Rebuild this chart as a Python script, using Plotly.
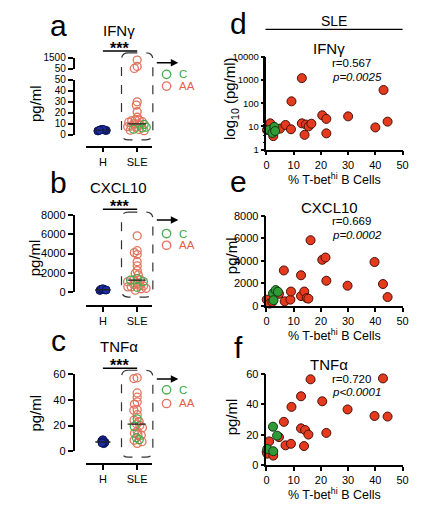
import numpy as np
import plotly.graph_objects as go

W, H = 436, 513
def fx(p): return p / W
def fy(p): return 1 - p / H

# ---------------- data ----------------
# IFN-gamma (pg/ml) vs % T-bet-hi B cells
ifn_aa_x = [0.2, 0.5, 1.4, 2.5, 5.0, 7.0, 9.0, 9.2, 13.0, 13.0, 14.0, 14.5, 15.5, 16.5, 20.5, 22.0, 22.0, 30.0, 40.0, 43.0, 44.5]
ifn_aa_y = [7, 10, 13.5, 3.8, 8, 11.5, 7.5, 120, 1200, 13.5, 4.3, 12, 10, 13, 30, 21, 5, 27, 9, 370, 16]
ifn_c_x = [1.0, 2.2, 2.9, 3.2]
ifn_c_y = [7, 5.2, 9.5, 6.3]
ifn_h = [3.6, 4.0, 4.4, 4.8, 5.0, 4.2]

# CXCL10 (pg/ml)
cx_aa_x = [0.1, 1.2, 2.2, 4.6, 6.4, 6.7, 8.8, 9.0, 12.7, 12.7, 13.9, 14.8, 15.4, 16.2, 20.5, 21.7, 22.0, 29.8, 39.7, 42.8, 44.5]
cx_aa_y = [550, 200, 350, 1070, 3150, 400, 550, 1270, 2720, 870, 1270, 690, 640, 5840, 4100, 4300, 2230, 1790, 3900, 1940, 780]
cx_c_x = [2.4, 2.6, 3.4, 4.2]
cx_c_y = [1100, 500, 1400, 1250]
cx_h = [180, 250, 300, 350, 220]

# TNF-alpha (pg/ml)
tnf_aa_x = [0.1, 0.3, 1.0, 2.5, 4.6, 6.4, 7.0, 9.0, 9.2, 12.7, 12.7, 13.8, 14.2, 15.4, 16.2, 20.5, 22.0, 29.8, 39.7, 42.8, 44.5]
tnf_aa_y = [8.6, 7.5, 15.6, 6.2, 18.4, 28.5, 13, 14, 38.4, 45.4, 24.2, 12.5, 23.1, 20.1, 56.6, 42.1, 21.2, 36.7, 32.4, 57.2, 32]
tnf_c_x = [0.3, 2.4, 2.5, 3.9]
tnf_c_y = [10.6, 25.3, 9.1, 19.4]
tnf_h = [6.0, 7.0, 8.0, 9.0, 7.5, 6.5]

groups = ["H", "SLE"]
x_ticks = [0, 10, 20, 30, 40, 50]
stats = [("r=0.567", "p=0.0025"), ("r=0.669", "p=0.0002"), ("r=0.720", "p<0.0001")]

# ---------------- styles ----------------
FONT = "Arial, Liberation Sans, sans-serif"
RED_FILL, RED_EDGE = "#e43a1d", "#4a1008"
GREEN_FILL, GREEN_EDGE = "#2f9a36", "#103a10"
RED_OPEN, GREEN_OPEN = "#e2735c", "#45ad4a"
BLUE, BLUE_EDGE = "#1c2ea6", "#0a1250"

fig = go.Figure()

def swarm(ypx, d):
    ypx = np.asarray(ypx, float)
    xs = np.zeros(len(ypx))
    placed = []
    for i in np.argsort(ypx):
        y = ypx[i]
        iv = []
        for xj, yj in placed:
            dy = abs(y - yj)
            if dy < d:
                dx = np.sqrt(d * d - dy * dy)
                iv.append((xj - dx, xj + dx))
        cands = [0.0] + [a for a, b in iv] + [b for a, b in iv]
        cands.sort(key=lambda c: (abs(c), c))
        for c in cands:
            if all(not (a + 1e-6 < c < b - 1e-6) for a, b in iv):
                xs[i] = c
                break
        placed.append((xs[i], y))
    return xs

PX_PER_UNIT = 35.0

def column_panel(h_vals, aa_vals, c_vals, to_px, yax_of, xax):
    # H group
    hp = [to_px(v) for v in h_vals]
    hx = swarm(hp, 1.8) / PX_PER_UNIT
    fig.add_trace(go.Scatter(x=list(hx), y=h_vals, mode="markers", xaxis=xax, yaxis=yax_of(np.median(h_vals)),
                             marker=dict(size=8, color=BLUE, line=dict(color=BLUE_EDGE, width=1)),
                             cliponaxis=False, hoverinfo="skip"))
    hm = float(np.median(h_vals))
    fig.add_trace(go.Scatter(x=[-0.22, 0.22], y=[hm, hm], mode="lines", xaxis=xax, yaxis=yax_of(hm),
                             line=dict(color="#222", width=1.3), hoverinfo="skip", cliponaxis=False))
    # SLE group
    vals = list(aa_vals) + list(c_vals)
    cols = [RED_OPEN] * len(aa_vals) + [GREEN_OPEN] * len(c_vals)
    sp = [to_px(v) for v in vals]
    sx = 1 + swarm(sp, 3.5) / PX_PER_UNIT
    segs = {}
    for xv, yv, cv in zip(sx, vals, cols):
        segs.setdefault(yax_of(yv), []).append((xv, yv, cv))
    for ya, pts in segs.items():
        fig.add_trace(go.Scatter(x=[p[0] for p in pts], y=[p[1] for p in pts], mode="markers",
                                 xaxis=xax, yaxis=ya,
                                 marker=dict(symbol="circle-open", size=8, color=[p[2] for p in pts],
                                             line=dict(width=1.3)),
                                 cliponaxis=False, hoverinfo="skip"))
    m = float(np.median(vals))
    fig.add_trace(go.Scatter(x=[0.72, 1.25], y=[m, m], mode="lines", xaxis=xax, yaxis=yax_of(m),
                             line=dict(color="#222", width=1.3), hoverinfo="skip", cliponaxis=False))

def lin_px(top, bottom, lo, hi):
    return lambda v: bottom - (v - lo) / (hi - lo) * (bottom - top)

# panel a: broken axis
def a_px(v):
    return lin_px(75.5, 132, 0, 50)(v) if v <= 50 else lin_px(53, 64.5, 50, 1500)(v)
column_panel(ifn_h, ifn_aa_y, ifn_c_y, a_px, lambda v: "y" if v <= 50 else "y2", "x")
column_panel(cx_h, cx_aa_y, cx_c_y, lin_px(214, 293, 0, 8000), lambda v: "y3", "x2")
column_panel(tnf_h, tnf_aa_y, tnf_c_y, lin_px(377, 456, 0, 60), lambda v: "y4", "x3")

def scatter_panel(ax, ay, cx_, cy_, xax, yax):
    fig.add_trace(go.Scatter(x=ax, y=ay, mode="markers", xaxis=xax, yaxis=yax,
                             marker=dict(size=9, color=RED_FILL, line=dict(color=RED_EDGE, width=1)),
                             cliponaxis=False, hoverinfo="skip"))
    fig.add_trace(go.Scatter(x=cx_, y=cy_, mode="markers", xaxis=xax, yaxis=yax,
                             marker=dict(size=9, color=GREEN_FILL, line=dict(color=GREEN_EDGE, width=1)),
                             cliponaxis=False, hoverinfo="skip"))

scatter_panel(ifn_aa_x, ifn_aa_y, ifn_c_x, ifn_c_y, "x4", "y5")
scatter_panel(cx_aa_x, cx_aa_y, cx_c_x, cx_c_y, "x5", "y6")
scatter_panel(tnf_aa_x, tnf_aa_y, tnf_c_x, tnf_c_y, "x6", "y7")

# ---------------- axes ----------------
common = dict(showline=True, linecolor="black", linewidth=1.5, ticks="outside", ticklen=5,
              tickwidth=1.5, tickcolor="black", showgrid=False, zeroline=False,
              tickfont=dict(size=11, color="black", family=FONT))

xcat = dict(common, domain=[fx(85), fx(152)], range=[-17 / 35, 50 / 35], tickvals=[0, 1],
            ticktext=groups, anchor="free")
ycol = dict(common, anchor="free", position=fx(72))
xsc = dict(common, domain=[fx(269), fx(408)], range=[0, 50], tickvals=x_ticks, ticklen=4)

fig.update_layout(
    xaxis=dict(xcat, position=fy(144)),
    yaxis=dict(ycol, domain=[fy(132), fy(75.5)], range=[0, 50], tickvals=[0, 10, 20, 30, 40, 50],
               tickfont=dict(size=10, color="black", family=FONT)),
    yaxis2=dict(ycol, domain=[fy(64.5), fy(53)], range=[50, 1500], tickvals=[50, 1500],
                tickfont=dict(size=10, color="black", family=FONT)),
    xaxis2=dict(xcat, position=fy(307)),
    yaxis3=dict(ycol, domain=[fy(293), fy(214)], range=[0, 8000], tickvals=[0, 2000, 4000, 6000, 8000]),
    xaxis3=dict(xcat, position=fy(469)),
    yaxis4=dict(ycol, domain=[fy(456), fy(377)], range=[0, 60], tickvals=[0, 20, 40, 60]),
    xaxis4=dict(xsc, anchor="y5"),
    yaxis5=dict(common, type="log", domain=[fy(147), fy(52)], range=[0, 4], anchor="x4", ticklen=4,
                tickvals=[1, 10, 100, 1000, 10000], ticktext=["1", "10", "100", "1000", "10000"],
                tickfont=dict(size=9.5, color="black", family=FONT),
                minor=dict(ticks="outside", ticklen=2, tickwidth=1, tickcolor="black", showgrid=False)),
    xaxis5=dict(xsc, anchor="y6"),
    yaxis6=dict(common, domain=[fy(307), fy(215)], range=[0, 8000], anchor="x5", ticklen=4,
                tickvals=[0, 2000, 4000, 6000, 8000]),
    xaxis6=dict(xsc, anchor="y7"),
    yaxis7=dict(common, domain=[fy(470), fy(377)], range=[0, 60], anchor="x6", ticklen=4,
                tickvals=[0, 20, 40, 60]),
)

# ---------------- annotations & shapes ----------------
ann, shapes = [], []
def txt(x, y, s, size, color="black", xanchor="center", angle=0, italic=False, bold=False):
    if italic:
        s = f"<i>{s}</i>"
    if bold:
        s = f"<b>{s}</b>"
    ann.append(dict(x=fx(x), y=fy(y), xref="paper", yref="paper", text=s, showarrow=False,
                    xanchor=xanchor, yanchor="middle", textangle=angle,
                    font=dict(size=size, color=color, family=FONT)))

def hline(x0, x1, y, width=1.5, color="black"):
    shapes.append(dict(type="line", xref="paper", yref="paper", x0=fx(x0), x1=fx(x1), y0=fy(y), y1=fy(y),
                       line=dict(color=color, width=width)))

def rrect(x0, y0, x1, y1, r):
    X, Y = fx, fy
    p = (f"M {X(x0+r)},{Y(y0)} L {X(x1-r)},{Y(y0)} Q {X(x1)},{Y(y0)} {X(x1)},{Y(y0+r)} "
         f"L {X(x1)},{Y(y1-r)} Q {X(x1)},{Y(y1)} {X(x1-r)},{Y(y1)} "
         f"L {X(x0+r)},{Y(y1)} Q {X(x0)},{Y(y1)} {X(x0)},{Y(y1-r)} "
         f"L {X(x0)},{Y(y0+r)} Q {X(x0)},{Y(y0)} {X(x0+r)},{Y(y0)} Z")
    shapes.append(dict(type="path", xref="paper", yref="paper", path=p,
                       line=dict(color="#333", width=1.2, dash="dash")))

def circ(cx, cy, r, color):
    shapes.append(dict(type="circle", xref="paper", yref="paper", x0=fx(cx - r), x1=fx(cx + r),
                       y0=fy(cy + r), y1=fy(cy - r), line=dict(color=color, width=1.3)))

# left column panels
left = [("a", 20, "IFNγ", 25, 44, 46, 120, 137, 48, 137, 58, 70, 82, 100),
        ("b", 181, "CXCL10", 186, 205, 208, 120, 153, 211, 298, 219, 233, 245, 258),
        ("c", 343, "TNFα", 349, 368, 371, 120, 153, 373, 462, 382, 393, 407, 417)]
for (let, ly, title, ty, sy, sly, bx0, bx1, by0, by1, ary, cy_, aay, pgy) in left:
    txt(57, ly, let, 30)
    txt(118, ty, title, 15)
    txt(119, sy, "***", 16, bold=True)
    hline(102, 137, sly)
    rrect(121, by0, 153, by1, 7)
    ann.append(dict(x=fx(179), y=fy(ary), xref="paper", yref="paper", text="", showarrow=True,
                    ax=-23, ay=0, arrowhead=2, arrowsize=1, arrowwidth=1.5, arrowcolor="black"))
    circ(167, cy_, 4.3, GREEN_OPEN)
    circ(167, aay, 4.3, RED_OPEN)
    txt(178, cy_, "C", 11.5, color="#3aa53f", xanchor="left")
    txt(178, aay, "AA", 11.5, color="#e0604a", xanchor="left")
    txt(33, pgy, "pg/ml", 15, angle=-90)

# right column panels
txt(338, 15, "SLE", 14)
hline(268, 408, 24, width=1.2)
right = [("d", 18, "IFNγ", 44, 58.5, 72.5, "log<sub>10</sub> (pg/ml)", 95, 177),
         ("e", 180, "CXCL10", 206, 220.5, 234, "pg/ml", 256, 337),
         ("f", 350, "TNFα", 367, 381.5, 395, "pg/ml", 421, 500)]
for i, (let, ly, title, ty, ry, py_, ytitle, yty, xty) in enumerate(right):
    txt(240, ly, let, 30)
    txt(333, ty, title, 15)
    txt(334, ry, stats[i][0], 11.5, xanchor="left")
    txt(334, py_, stats[i][1], 11.5, xanchor="left", italic=True)
    txt(233, yty, ytitle, 15, angle=-90)
    txt(338, xty, "% T-bet<sup>hi</sup> B Cells", 12.5)

fig.update_layout(width=W, height=H, margin=dict(l=0, r=0, t=0, b=0), showlegend=False,
                  plot_bgcolor="white", paper_bgcolor="white", font=dict(family=FONT, color="black"),
                  annotations=ann, shapes=shapes)

fig.write_html("out.html", config={"displayModeBar": False},
               post_script="document.body.style.margin='0';document.body.style.overflow='hidden';")
